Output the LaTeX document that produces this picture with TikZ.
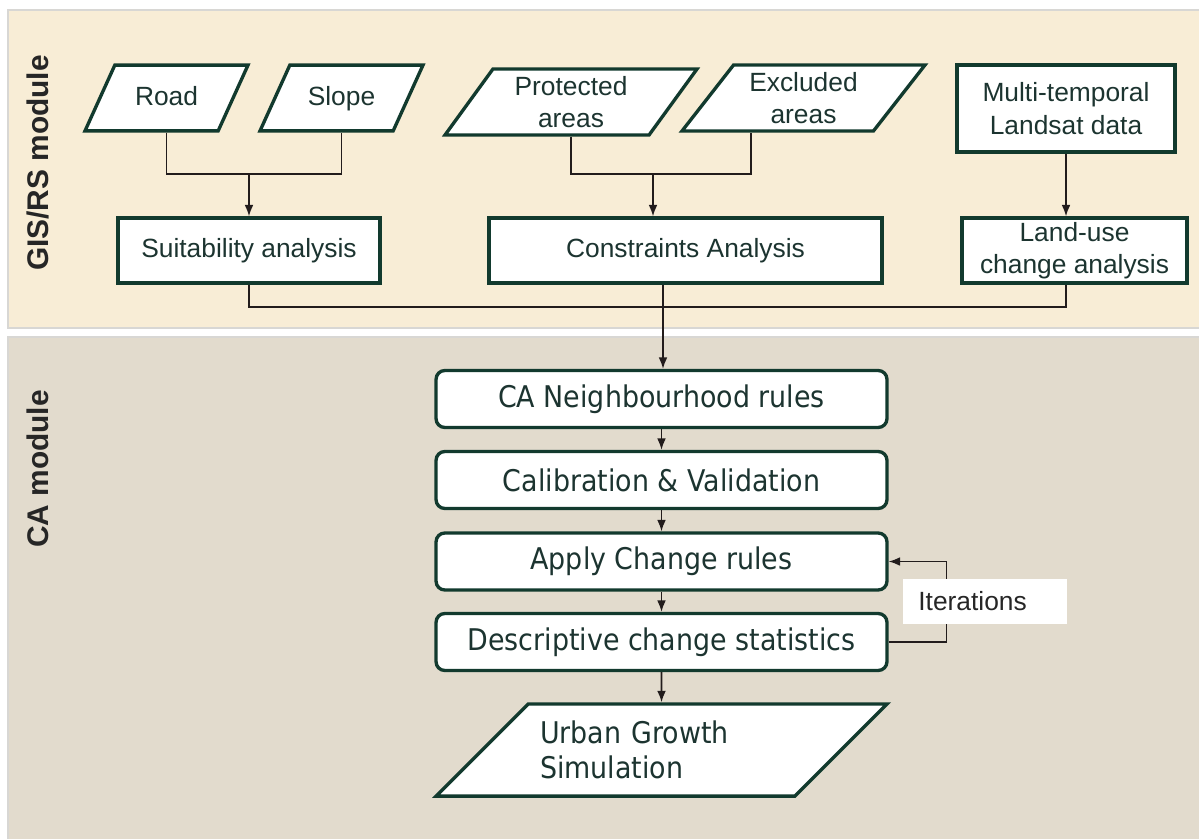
\documentclass[tikz,border=0pt]{standalone}
\usepackage{fontspec}
\setmainfont{Liberation Sans}
\newfontfamily\cafont[FakeStretch=0.9]{DejaVu Sans}
\usetikzlibrary{shapes.geometric, arrows.meta}

\definecolor{gisbg}{RGB}{248,237,214}
\definecolor{cabg}{RGB}{226,219,205}
\definecolor{frame}{RGB}{216,215,212}
\definecolor{boxline}{RGB}{18,58,46}
\definecolor{boxtext}{RGB}{28,52,48}
\definecolor{wire}{RGB}{34,28,28}

\begin{document}
\begin{tikzpicture}[
    x=0.02cm, y=-0.02cm,
    box/.style={rectangle, draw=boxline, line width=1.9pt, fill=white, text=boxtext, align=center, inner sep=0pt, font=\fontsize{15}{18.5}\selectfont},
    rbox/.style={box, rounded corners=5pt, minimum width=9.02cm, minimum height=1.14cm, font=\cafont\fontsize{17}{20}\selectfont},
    dataio/.style 2 args={trapezium, trapezium left angle=#1, trapezium right angle=#2, trapezium stretches body, draw=boxline, line width=1.9pt, fill=white, text=boxtext, align=center, inner xsep=0pt, inner ysep=4pt, font=\fontsize{15}{18.5}\selectfont},
    oneline/.style={text height=11pt, text depth=3pt, inner ysep=11.7pt},
    conn/.style={draw=wire, line width=0.9pt},
    arrow/.style={conn, -{Latex[length=6.5pt, width=5pt]}},
    panel/.style={draw=frame, line width=1.6pt},
    modlabel/.style={rotate=90, font=\bfseries\fontsize{17}{20}\selectfont, text=black!85}
]
    \useasboundingbox (0,0) rectangle (1199,838);
    \clip (0,0) rectangle (1199,838);
    \fill[white] (0,0) rectangle (1199,838);

    % the two module panels
    \draw[panel, fill=gisbg] (8,10) rectangle (1215,328);
    \draw[panel, fill=cabg] (8,337) rectangle (1215,850);
    \node[modlabel] (gislabel) at (38,163) {GIS/RS module};
    \node[modlabel] (calabel) at (38,469) {CA module};

    % GIS/RS inputs
    \node[dataio={65.6}{114.4}, oneline, minimum width=3.26cm] (road) at (166.5,98) {Road};
    \node[dataio={65.6}{114.4}, oneline, minimum width=3.26cm] (slope) at (341.5,98) {Slope};
    \node[dataio={54}{126}, minimum width=5.04cm] (prot) at (571,102) {Protected\\areas};
    \node[dataio={52}{128}, minimum width=4.86cm] (excl) at (803.5,98) {Excluded\\areas};
    \node[box, minimum width=4.36cm, minimum height=1.74cm] (multi) at (1066,108.5) {Multi-temporal\\Landsat data};

    % analyses
    \node[box, minimum width=5.24cm, minimum height=1.3cm] (suit) at (249,250.5) {Suitability analysis};
    \node[box, minimum width=7.86cm, minimum height=1.3cm] (cons) at (685.5,250.5) {Constraints Analysis};
    \node[box, minimum width=4.5cm, minimum height=1.3cm] (land) at (1074.5,250.5) {Land-use\\change analysis};

    % CA steps
    \node[rbox] (ca) at (661.5,399) {CA Neighbourhood rules};
    \node[rbox] (calib) at (661.5,480) {Calibration \& Validation};
    \node[rbox] (apply) at (661.5,561.5) {Apply Change rules};
    \node[rbox] (descr) at (661.5,642) {Descriptive change statistics};
    \node[dataio={45}{135}, minimum width=9.02cm, inner ysep=9.75pt, text width=4.86cm, align=left, font=\cafont\fontsize{17}{19.8}\selectfont] (urban) at (661.5,750) {Urban Growth\\Simulation};

    % connectors
    \coordinate (jA) at (249,174);
    \draw[conn] (road.south) |- (jA) -| (slope.south);
    \draw[arrow] (jA) -- (suit.north);
    \coordinate (jB) at (653,174);
    \draw[conn] (prot.south) |- (jB) -| ([xshift=-1.05cm]excl.south);
    \draw[arrow] (jB) -- (jB |- cons.north);
    \draw[arrow] (multi.south) -- (multi.south |- land.north);
    \coordinate (jC) at (663,307);
    \draw[conn] (suit.south) |- (multi.south |- jC) -- (multi.south |- land.south);
    \draw[arrow] (jC |- cons.south) -- (jC |- ca.north);

    \draw[arrow] (ca) -- (calib);
    \draw[arrow] (calib) -- (apply);
    \draw[arrow] (apply) -- (descr);
    \draw[arrow] (descr) -- (urban);
    \draw[arrow] (descr.east) -- ++(58,0) |- (apply.east);
    \node[fill=white, anchor=west, text width=2.68cm, inner xsep=0.3cm, minimum height=0.9cm, align=left, text=black!85, font=\fontsize{15}{18}\selectfont] (iter) at (903,601.5) {Iterations};
\end{tikzpicture}
\end{document}
